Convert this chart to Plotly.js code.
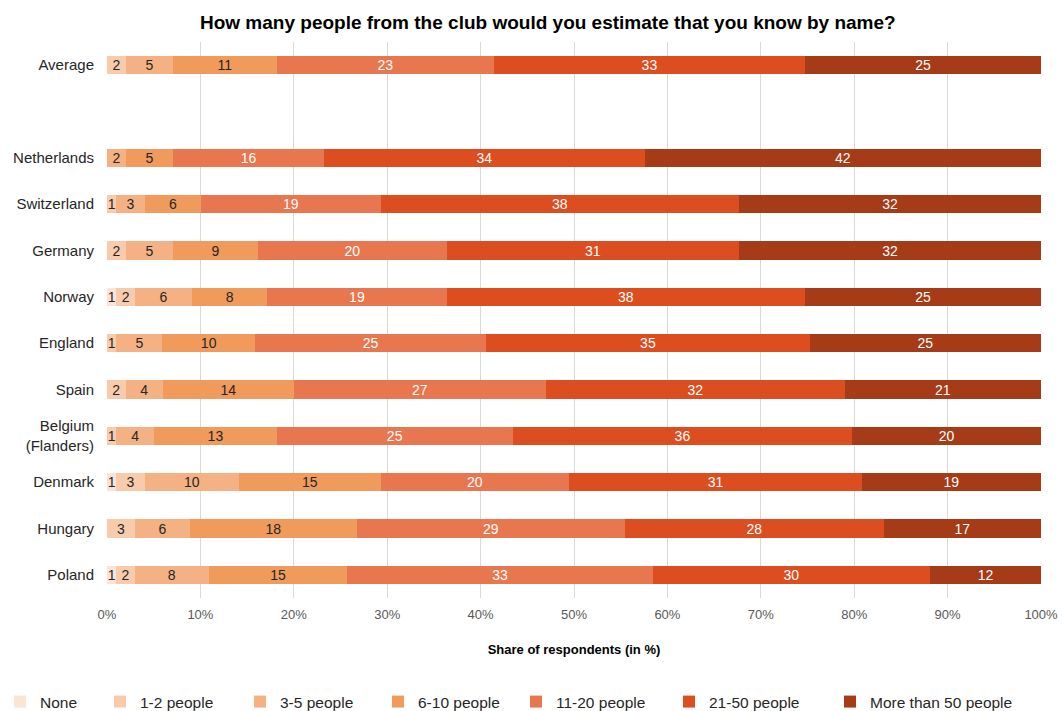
<!DOCTYPE html>
<html>
<head>
<meta charset="utf-8">
<script src="https://cdn.plot.ly/plotly-3.0.1.min.js"></script>
<style>html,body{margin:0;padding:0;background:#fff;}#chart{width:1062px;height:711px;}</style>
</head>
<body>
<div id="chart"></div>
<script>
// Categories (top to bottom); " " is an empty spacer row
const categories = ['Average', ' ', 'Netherlands', 'Switzerland', 'Germany', 'Norway', 'England', 'Spain', 'Belgium<br>(Flanders)', 'Denmark', 'Hungary', 'Poland'];
const seriesNames = ['None', '1-2 people', '3-5 people', '6-10 people', '11-20 people', '21-50 people', 'More than 50 people'];

// Values (%) per category, null for the spacer row
const none      = [0,  null, 0,  0,  0,  1,  0,  0,  0,  1,  0,  1];
const people1_2 = [2,  null, 0,  1,  2,  2,  1,  2,  1,  3,  3,  2];
const people3_5 = [5,  null, 2,  3,  5,  6,  5,  4,  4,  10, 6,  8];
const people6_10 = [11, null, 5,  6,  9,  8,  10, 14, 13, 15, 18, 15];
const people11_20 = [23, null, 16, 19, 20, 19, 25, 27, 25, 20, 29, 33];
const people21_50 = [33, null, 34, 38, 31, 38, 35, 32, 36, 31, 28, 30];
const peopleOver50 = [25, null, 42, 32, 32, 25, 25, 21, 20, 19, 17, 12];

const xTickVals = [0, 10, 20, 30, 40, 50, 60, 70, 80, 90, 100];
const xTickText = ['0%', '10%', '20%', '30%', '40%', '50%', '60%', '70%', '80%', '90%', '100%'];

const allSeries = [none, people1_2, people3_5, people6_10, people11_20, people21_50, peopleOver50];
const colors = ['#FBE3D6', '#F8CBAD', '#F4B183', '#F09A5B', '#E8774F', '#DC4E1F', '#A63B18'];
const textColors = ['#262626', '#262626', '#262626', '#262626', '#ffffff', '#ffffff', '#ffffff'];
const legendIds = ['legend', 'legend2', 'legend3', 'legend4', 'legend5', 'legend6', 'legend7'];
const legendLeftPx = [-6, 100, 240, 378, 516, 669, 830];

const traces = allSeries.map((vals, i) => ({
  type: 'bar',
  orientation: 'h',
  name: seriesNames[i],
  y: categories,
  x: vals,
  text: vals.map(v => (v ? String(v) : '')),
  textposition: 'inside',
  insidetextanchor: 'middle',
  constraintext: 'none',
  textangle: 0,
  textfont: {family: 'Liberation Sans, Arial, sans-serif', size: 14, color: textColors[i]},
  marker: {color: colors[i], line: {width: 0}},
  legend: legendIds[i],
  hoverinfo: 'name+x'
}));

const layout = {
  width: 1062,
  height: 711,
  barmode: 'stack',
  barnorm: 'percent',
  bargap: 0.61,
  paper_bgcolor: '#ffffff',
  plot_bgcolor: '#ffffff',
  margin: {l: 107, r: 21, t: 42, b: 113, autoexpand: false},
  font: {family: 'Liberation Sans, Arial, sans-serif', size: 13, color: '#262626'},
  title: {
    text: '<b>How many people from the club would you estimate that you know by name?</b>',
    font: {family: 'Liberation Sans, Arial, sans-serif', size: 19, color: '#000000'},
    x: 0.472, xref: 'paper', xanchor: 'center',
    y: 0.969, yref: 'container', yanchor: 'middle'
  },
  xaxis: {
    range: [0, 100],
    tickvals: xTickVals,
    ticktext: xTickText,
    showgrid: true,
    gridcolor: '#D9D9D9',
    gridwidth: 1,
    zeroline: false,
    showline: false,
    ticks: '',
    ticklabelstandoff: 7,
    automargin: false,
    tickfont: {size: 13, color: '#595959'},
    title: {text: '<b>Share of respondents (in %)</b>', font: {size: 13, color: '#000000'}, standoff: 23},
    fixedrange: true
  },
  yaxis: {
    type: 'category',
    categoryorder: 'array',
    categoryarray: categories,
    range: [11.5, -0.5],
    showgrid: false,
    zeroline: false,
    showline: false,
    ticks: '',
    ticklabelstandoff: 12,
    automargin: false,
    tickfont: {size: 15, color: '#262626'},
    fixedrange: true
  },
  showlegend: true
};

legendIds.forEach((id, i) => {
  layout[id] = {
    orientation: 'h',
    xref: 'container',
    x: legendLeftPx[i] / 1062,
    xanchor: 'left',
    yref: 'container',
    y: 1 - 702 / 711,
    yanchor: 'middle',
    font: {size: 15.5, color: '#262626'},
    bgcolor: 'rgba(0,0,0,0)',
    itemwidth: 30
  };
});

Plotly.newPlot('chart', traces, layout, {displayModeBar: false, staticPlot: true});
</script>
</body>
</html>
